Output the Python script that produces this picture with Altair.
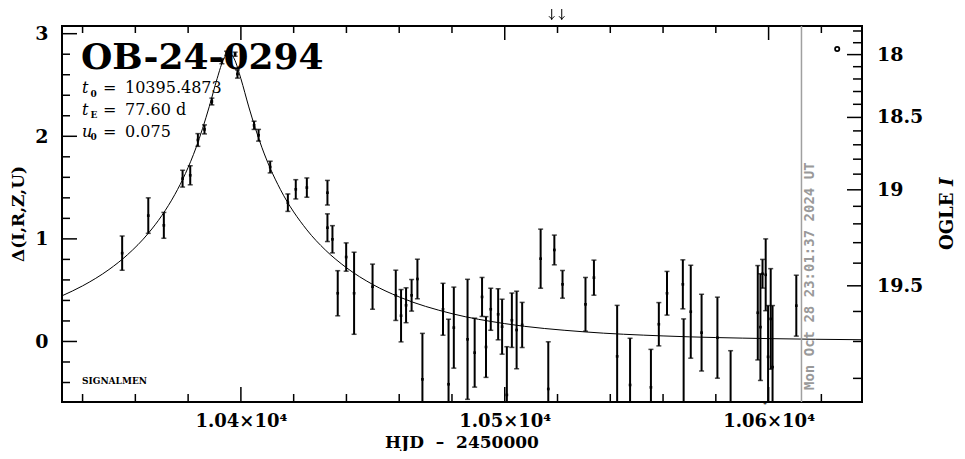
import altair as alt
import numpy as np
import pandas as pd

# ---------------- data ----------------
hjd = [10355.0, 10364.9, 10370.8, 10377.9, 10380.8, 10383.7, 10386.2, 10389.0,
       10392.8, 10394.6, 10397.8, 10398.7, 10405.0, 10406.7, 10411.1, 10417.8,
       10420.8, 10425.0, 10432.8, 10432.8, 10434.7, 10436.7, 10439.9, 10442.9,
       10449.9, 10458.7, 10460.7, 10462.6, 10464.7, 10466.9, 10468.8, 10476.6,
       10478.7, 10480.7, 10485.9, 10488.6, 10491.4, 10492.9, 10494.7, 10497.5,
       10499.0, 10500.8, 10502.7, 10504.5, 10506.6, 10513.6, 10516.5, 10518.8,
       10521.9, 10530.6, 10533.8, 10542.6, 10547.5, 10555.4, 10558.4, 10561.5,
       10567.5, 10567.8, 10570.5, 10574.6, 10580.6, 10585.6, 10595.9, 10596.9,
       10597.7, 10598.9, 10599.8, 10600.8, 10601.5, 10610.5]
delta = [0.861, 1.227, 1.132, 1.587, 1.620, 1.964, 2.067, 2.339,
         2.732, 2.809, 2.800, 2.607, 2.107, 2.010, 1.700, 1.353,
         1.483, 1.500, 1.450, 1.109, 0.996, 0.470, 0.823, 0.470,
         0.534, 0.450, 0.251, 0.353, 0.450, 0.609, -0.369, 0.314,
         -0.417, 0.135, 0.021, -0.109, 0.434, -0.054, 0.314, 0.265,
         0.144, -0.521, 0.207, 0.112, 0.161, 0.807, -0.463, 0.892,
         0.557, 0.362, 0.622, -0.145, -0.424, -0.447, 0.168, 0.470,
         0.557, -0.720, 0.290, 0.086, 0.037, -0.720, 0.280, 0.140,
         0.660, 0.650, -0.150, 0.220, -0.250, 0.349]
delta_err = [0.167, 0.173, 0.126, 0.082, 0.093, 0.062, 0.044, 0.033,
             0.025, 0.020, 0.020, 0.040, 0.040, 0.057, 0.057, 0.085,
             0.094, 0.094, 0.120, 0.135, 0.133, 0.220, 0.138, 0.400,
             0.220, 0.245, 0.255, 0.170, 0.154, 0.193, 0.448, 0.253,
             0.634, 0.395, 0.585, 0.336, 0.190, 0.296, 0.205, 0.249,
             0.268, 0.470, 0.265, 0.378, 0.220, 0.288, 0.460, 0.145,
             0.135, 0.262, 0.171, 0.497, 0.455, 0.370, 0.211, 0.213,
             0.239, 0.940, 0.453, 0.374, 0.395, 0.630, 0.460, 0.520,
             0.140, 0.350, 0.500, 0.490, 0.600, 0.297]

# model light curve
model_hjd = [10332.2, 10340, 10350, 10357, 10365, 10370, 10375, 10379, 10383,
             10388, 10391, 10393.5, 10395.5, 10397.5, 10400, 10403, 10408,
             10411, 10415, 10425, 10432, 10440, 10450, 10460, 10480, 10500,
             10530, 10560, 10600, 10635.4]
model_delta = [0.445, 0.542, 0.701, 0.845, 1.057, 1.226, 1.434, 1.638, 1.889,
               2.288, 2.563, 2.755, 2.815, 2.754, 2.561, 2.286, 1.888,
               1.695, 1.480, 1.088, 0.892, 0.719, 0.555, 0.434, 0.271, 0.174,
               0.094, 0.054, 0.028, 0.017]

x_major_ticks = [10400, 10500, 10600]
x_minor_ticks = [10340, 10360, 10380, 10420, 10440, 10460, 10480,
                 10520, 10540, 10560, 10580, 10620]
y_major_ticks = [0, 1, 2, 3]
y_minor_ticks = [-0.4, -0.2, 0.2, 0.4, 0.6, 0.8, 1.2, 1.4, 1.6, 1.8,
                 2.2, 2.4, 2.6, 2.8]
ogle_I_ticks = [17.8, 17.9, 18.0, 18.1, 18.2, 18.3, 18.4, 18.5, 18.6, 18.7,
                18.8, 18.9, 19.0, 19.1, 19.2, 19.3, 19.4, 19.5, 19.6, 19.7, 19.8]
ogle_I_labels = [18.0, 18.5, 19.0, 19.5]
I_BASE = 19.70      # baseline magnitude
F_SOURCE = 0.312    # source flux fraction

param_lines = [("t", "0", "10395.4873", ""), ("t", "E", "77.60", "d"), ("u", "0", "0.075", "")]
event_name = "OB-24-0294"
x_title = "HJD\u00a0\u00a0\u2013\u00a0\u00a02450000"
y_title = "Δ(I,R,Z,U)"
now_hjd = 10612.46
now_text = "Mon Oct 28 23:01:37 2024 UT"
alert_hjds = [10517.8, 10521.6]
star_hjd = 10598.6
marker_hjd, marker_delta = 10626.0, 2.851

# ---------------- chart ----------------
W, H = 800, 376
FONT = "DejaVu Serif"
xs = alt.Scale(domain=[10332.2, 10635.4], nice=False, zero=False)
ys = alt.Scale(domain=[-0.59, 3.075], nice=False, zero=False)

x_axis = alt.Axis(values=x_major_ticks,
                  labelExpr="format(datum.value / 10000, '.2f') + '×10⁴'",
                  ticks=False, domain=False, grid=False, tickSize=0,
                  labelPadding=10, labelFont=FONT, labelFontSize=18,
                  labelFontWeight="bold", labelColor="black", labelOverlap=False,
                  title=None)
y_axis = alt.Axis(values=y_major_ticks, format="d", ticks=False, domain=False,
                  grid=False, tickSize=0, labelPadding=14, labelFont=FONT,
                  labelFontSize=19, labelFontWeight="bold", labelColor="black",
                  labelOverlap=False, labelBaseline="middle", title=None)


def X(f):
    return alt.X(f"{f}:Q", scale=xs, axis=x_axis)


def Y(f):
    return alt.Y(f"{f}:Q", scale=ys, axis=y_axis)


obs = pd.DataFrame({"t": hjd, "d": delta, "e": delta_err})
obs["lo"] = obs["d"] - obs["e"]
obs["hi"] = obs["d"] + obs["e"]

bars = alt.Chart(obs).mark_rule(color="black", strokeWidth=2, clip=True).encode(
    x=X("t"), y=Y("lo"), y2="hi:Q")
cap_lo = alt.Chart(obs).mark_tick(color="black", orient="horizontal", size=5,
                                  thickness=1.5, clip=True).encode(x=X("t"), y=Y("lo"))
cap_hi = alt.Chart(obs).mark_tick(color="black", orient="horizontal", size=5,
                                  thickness=1.5, clip=True).encode(x=X("t"), y=Y("hi"))
centers = alt.Chart(obs).mark_square(color="black", size=7, opacity=1,
                                     clip=True).encode(x=X("t"), y=Y("d"))

model = pd.DataFrame({"t": model_hjd, "d": model_delta})
curve = alt.Chart(model).mark_line(color="black", strokeWidth=1,
                                   interpolate="monotone", clip=True).encode(
    x=X("t"), y=Y("d"))

# inward ticks
xmaj = pd.DataFrame({"t": x_major_ticks})
xmin = pd.DataFrame({"t": x_minor_ticks})
ymaj = pd.DataFrame({"d": y_major_ticks})
ymin = pd.DataFrame({"d": y_minor_ticks})
rI = pd.DataFrame({"I": ogle_I_ticks})
rI["d"] = 2.5 * np.log10((10 ** (-0.4 * (rI["I"] - I_BASE)) - (1 - F_SOURCE)) / F_SOURCE)
rI["major"] = rI["I"].round(2).isin(ogle_I_labels)
rmaj = rI[rI["major"]].copy()
rmaj["label"] = rmaj["I"].map(lambda v: f"{v:g}")
rmin = rI[~rI["major"]]

tick = dict(color="black", strokeWidth=1.5)
ticks = [
    alt.Chart(xmaj).mark_rule(**tick).encode(x=X("t"), y=alt.value(H), y2=alt.value(H - 15)),
    alt.Chart(xmaj).mark_rule(**tick).encode(x=X("t"), y=alt.value(0), y2=alt.value(14)),
    alt.Chart(xmin).mark_rule(**tick).encode(x=X("t"), y=alt.value(H), y2=alt.value(H - 8)),
    alt.Chart(xmin).mark_rule(**tick).encode(x=X("t"), y=alt.value(0), y2=alt.value(7)),
    alt.Chart(ymaj).mark_rule(**tick).encode(y=Y("d"), x=alt.value(0), x2=alt.value(15)),
    alt.Chart(ymin).mark_rule(**tick).encode(y=Y("d"), x=alt.value(0), x2=alt.value(8)),
    alt.Chart(rmaj).mark_rule(**tick).encode(y=Y("d"), x=alt.value(W), x2=alt.value(W - 15)),
    alt.Chart(rmin).mark_rule(**tick).encode(y=Y("d"), x=alt.value(W), x2=alt.value(W - 9)),
]
right_labels = alt.Chart(rmaj).mark_text(font=FONT, fontSize=19, fontWeight="bold",
                                         align="left", baseline="middle",
                                         color="black").encode(
    y=Y("d"), x=alt.value(W + 15), text="label:N")


def txt(s, x, y, size, **kw):
    opts = dict(font=FONT, fontSize=size, align="left", baseline="alphabetic", color="black")
    opts.update(kw)
    return alt.Chart(pd.DataFrame({"s": [s]})).mark_text(**opts).encode(
        x=alt.value(x), y=alt.value(y), text="s:N")


annots = [txt(event_name, 19, 43, 36, fontWeight="bold")]
for i, (sym, sub, val, unit) in enumerate(param_lines):
    base = 67 + 21.8 * i
    annots.append(txt(sym, 20, base, 16, fontStyle="italic"))
    annots.append(txt(sub, 28.5, base + 3.5, 9, fontWeight="bold"))
    annots.append(txt("=", 41, base, 16))
    annots.append(txt(val, 63, base, 16))
    if unit:
        annots.append(txt(unit, 114, base, 16))
annots.append(txt("SIGNALMEN", 20, 358, 9, fontWeight="bold"))
# axis titles
annots.append(txt(x_title, W / 2, 422, 17, fontWeight="bold", align="center"))
annots.append(txt(y_title, -43, H / 2, 17, fontWeight="bold", align="center",
                  baseline="middle", angle=270))
annots.append(txt("OGLE", 886, 224, 18, fontWeight="bold", angle=270, baseline="middle"))
annots.append(txt("I", 886, 160, 18, fontWeight="bold", fontStyle="italic",
                  angle=270, baseline="middle"))

now_df = pd.DataFrame({"t": [now_hjd], "s": [now_text], "tt": [now_hjd + 3.2]})
now_line = alt.Chart(now_df).mark_rule(color="#a0a0a0", strokeWidth=1.5).encode(
    x=X("t"), y=alt.value(0), y2=alt.value(H))
now_label = alt.Chart(now_df).mark_text(font="DejaVu Sans Mono", fontWeight="bold",
                                        fontSize=14, color="#999999", angle=270,
                                        align="left", baseline="middle").encode(
    x=X("tt"), y=alt.value(H - 12), text="s:N")

# double down-arrow above the frame
arr_df = pd.DataFrame({"t": alert_hjds})
arrow_shafts = alt.Chart(arr_df).mark_rule(color="black", strokeWidth=1).encode(
    x=X("t"), y=alt.value(-17), y2=alt.value(-6))
arrow_heads = alt.Chart(arr_df).mark_point(
    shape="M-1,-1L0,0L1,-1", filled=False, color="black", strokeWidth=1,
    size=30, opacity=1).encode(x=X("t"), y=alt.value(-7))

star = alt.Chart(pd.DataFrame({"t": [star_hjd], "s": ["*"]})).mark_text(
    font="DejaVu Sans", fontSize=9, color="black", baseline="middle").encode(
    x=X("t"), y=alt.value(H + 3), text="s:N")
marker = alt.Chart(pd.DataFrame({"t": [marker_hjd], "d": [marker_delta]})).mark_point(
    shape="circle", filled=False, color="black", strokeWidth=1.8, size=18, opacity=1).encode(
    x=X("t"), y=Y("d"))

chart = alt.layer(
    curve, bars, cap_lo, cap_hi, centers, *ticks, right_labels, *annots,
    now_line, now_label, arrow_shafts, arrow_heads, star, marker
).properties(
    width=W, height=H,
    autosize=alt.AutoSizeParams(type="none"),
    padding={"left": 54, "top": 18, "right": 95, "bottom": 49},
    background="white",
).configure_view(stroke="black", strokeWidth=2)

chart.save("out.html", embed_options={"renderer": "svg", "actions": False})
